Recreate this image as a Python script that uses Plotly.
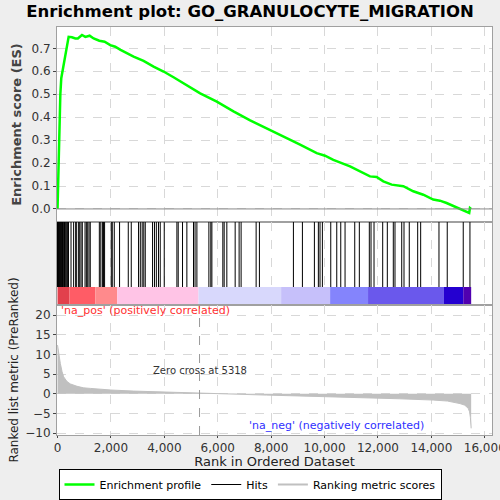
import plotly.graph_objects as go

# Data
n_genes = 15490

es_rank = [0, 40, 70, 80, 105, 140, 190, 255, 320, 355, 416, 541, 666, 760, 853, 915, 1040,
           1202, 1352, 1564, 1763, 1975, 2160, 2360, 2848, 3222, 3596, 3970, 4344, 4843, 5342,
           5965, 6589, 7212, 7835, 8459, 8833, 9082, 9706, 10017, 10329, 10953, 11327, 11701,
           11950, 12200, 12512, 12948, 13322, 13696, 14070, 14319, 14569, 15005, 15254, 15416,
           15444, 15490]
es_value = [0.0, 0.21, 0.30, 0.40, 0.50, 0.57, 0.605, 0.64, 0.68, 0.72, 0.75, 0.748, 0.743,
            0.743, 0.753, 0.758, 0.75, 0.755, 0.743, 0.733, 0.729, 0.714, 0.707, 0.693, 0.664,
            0.645, 0.62, 0.599, 0.574, 0.538, 0.504, 0.468, 0.425, 0.386, 0.352, 0.316, 0.294,
            0.28, 0.243, 0.232, 0.214, 0.186, 0.164, 0.142, 0.139, 0.12, 0.106, 0.099, 0.077,
            0.062, 0.041, 0.036, 0.026, 0.004, -0.006, -0.017, 0.004, 0.0]

hit_ranks = [0, 15, 30, 45, 60, 80, 100, 120, 140, 160, 185, 210, 235, 260, 290, 320, 350,
             380, 410, 505, 603, 680, 703, 780, 830, 880, 928, 1030, 1080, 1130, 1180, 1225,
             1565, 1620, 1680, 1720, 1762, 2013, 2050, 2125, 2323, 2649, 2761, 3034, 3100,
             3170, 3230, 3285, 3558, 3630, 3700, 3780, 3846, 3996, 4470, 4519, 4681, 4843,
             5092, 5150, 5219, 5668, 5740, 5780, 6190, 6240, 6340, 6652, 6800, 6875, 7437,
             7560, 8833, 9170, 9619, 9768, 9830, 9918, 10232, 10456, 10606, 10767, 11130,
             11302, 11676, 11740, 11852, 12177, 12350, 12574, 12637, 12889, 12975, 13172,
             13487, 13599, 14284, 14594, 15193, 15444]

metric_rank = [0, 10, 40, 105, 170, 230, 355, 480, 730, 980, 1230, 1600, 2000, 2850, 4100,
               5318, 6500, 7830, 9000, 10330, 11500, 12820, 14070, 14600, 15070, 15250, 15380,
               15430, 15460, 15480, 15490]
metric_value = [12.4, 11.8, 10.6, 7.7, 5.6, 4.3, 3.1, 2.5, 1.9, 1.5, 1.36, 1.1, 0.95, 0.68,
                0.42, 0.0, -0.18, -0.34, -0.55, -0.77, -1.0, -1.28, -1.6, -1.85, -2.5, -2.9,
                -3.7, -4.6, -6.0, -8.8, -8.8]

band_edges = [0, 450, 1414, 2237, 5279, 8373, 10207, 11628, 14471, 15193, 15490]
band_colors = ["#e2404c", "#ff5c66", "#ff8a8c", "#ffc4e6", "#d8d8fc", "#c6c0fa",
               "#8484fc", "#6a58ec", "#2400d0", "#5000b0"]

zero_cross = 5318

fig = go.Figure()

# enrichment profile
fig.add_trace(go.Scatter(x=es_rank, y=es_value, mode="lines", name="Enrichment profile",
                         line=dict(color="#00ff00", width=2.5), xaxis="x", yaxis="y"))

# hits
hx, hy = [], []
for r in hit_ranks:
    hx += [r, r, None]
    hy += [0.217, 1, None]
fig.add_trace(go.Scatter(x=hx, y=hy, mode="lines", name="Hits",
                         line=dict(color="black", width=1), xaxis="x2", yaxis="y2"))

# colour bar under the hits
for i, c in enumerate(band_colors):
    fig.add_trace(go.Scatter(x=[band_edges[i], band_edges[i + 1], band_edges[i + 1], band_edges[i], band_edges[i]],
                             y=[0, 0, 0.217, 0.217, 0], mode="lines", fill="toself",
                             fillcolor=c, line=dict(width=0), hoverinfo="skip",
                             showlegend=False, xaxis="x2", yaxis="y2"))

# ranking metric
fig.add_trace(go.Scatter(x=metric_rank, y=metric_value, mode="lines", fill="tozeroy",
                         fillcolor="#c0c0c0", line=dict(color="#c0c0c0", width=1),
                         showlegend=False, xaxis="x3", yaxis="y3"))
fig.add_trace(go.Scatter(x=[None], y=[None], mode="lines", name="Ranking metric scores",
                         line=dict(color="#c0c0c0", width=2), xaxis="x3", yaxis="y3"))

grid = dict(showgrid=True, gridcolor="#d8d8d8", griddash="dash", gridwidth=1,
            showline=True, linecolor="#a0a0a0", mirror=True, zeroline=False,
            automargin=False)
xrng = [-20, 16270]
tick_font = dict(family="DejaVu Sans", size=12, color="#333333")

fig.update_layout(
    width=500, height=500,
    paper_bgcolor="#eeeeee", plot_bgcolor="white",
    margin=dict(l=57, r=8, t=27, b=65),
    title=dict(text="<b>Enrichment plot: GO_GRANULOCYTE_MIGRATION</b>", x=0.5, y=0.977,
               xanchor="center", yanchor="middle",
               font=dict(family="DejaVu Sans", size=16.5, color="black"), automargin=False),
    xaxis=dict(domain=[0, 1], range=xrng, anchor="y", showticklabels=False,
               dtick=2000, ticks="", **grid),
    yaxis=dict(domain=[0.522, 1], range=[-0.057, 0.793], dtick=0.1, tickformat=".1f",
               tickfont=tick_font, ticks="outside", ticklen=3,
               title=dict(text="<b>Enrichment score (ES)</b>", standoff=6,
                          font=dict(family="DejaVu Sans", size=13, color="#444444")),
               **grid),
    xaxis2=dict(domain=[0, 1], range=xrng, anchor="y2", showticklabels=False,
                dtick=2000, ticks="", **grid),
    yaxis2=dict(domain=[0.3186, 0.522], range=[0, 1], showticklabels=False, showgrid=False,
                showline=True, linecolor="#a0a0a0", mirror=True, zeroline=False,
                automargin=False),
    xaxis3=dict(domain=[0, 1], range=xrng, anchor="y3", dtick=2000, tickformat=",d",
                tickfont=tick_font, ticks="outside", ticklen=2, ticklabeloverflow="allow",
                title=dict(text="Rank in Ordered Dataset", standoff=3,
                           font=dict(family="DejaVu Sans", size=13, color="#222222")),
                **grid),
    yaxis3=dict(domain=[0, 0.3186], range=[-10.5, 22.6], dtick=5, tickfont=tick_font,
                ticks="outside", ticklen=3,
                title=dict(text="Ranked list metric (PreRanked)", standoff=4,
                           font=dict(family="DejaVu Sans", size=12, color="#222222")),
                **grid),
    legend=dict(orientation="h", xref="container", yref="container", x=0.5, xanchor="center",
                y=0.062, yanchor="top",
                bgcolor="white", bordercolor="black", borderwidth=1, itemwidth=30,
                tracegroupgap=0, font=dict(family="DejaVu Sans", size=11, color="black")),
)

# ES zero line
fig.add_shape(type="line", xref="x", yref="y", x0=xrng[0], x1=xrng[1], y0=0, y1=0,
              line=dict(color="#888888", width=1))
# zero cross marker
fig.add_shape(type="line", xref="x3", yref="y3 domain", x0=zero_cross, x1=zero_cross,
              y0=0, y1=1, line=dict(color="#999999", width=1, dash="dash"))

fig.add_annotation(x=zero_cross, y=6, xref="x3", yref="y3", text="Zero cross at " + str(zero_cross),
                   showarrow=False, font=dict(family="DejaVu Sans", size=10, color="#333333"))
fig.add_annotation(x=50, y=21.3, xref="x3", yref="y3", xanchor="left",
                   text="'na_pos' (positively correlated)", showarrow=False,
                   font=dict(family="DejaVu Sans", size=11, color="#ff3030"))
fig.add_annotation(x=13800, y=-8.2, xref="x3", yref="y3", xanchor="right",
                   text="'na_neg' (negatively correlated)", showarrow=False,
                   font=dict(family="DejaVu Sans", size=11, color="#3030ff"))

# page has an 8px body margin by default; drop it so the figure sits at the corner
fig.write_html("out.html", config={"displayModeBar": False},
               post_script="document.body.style.margin='0px';document.body.style.background='#eeeeee';")
